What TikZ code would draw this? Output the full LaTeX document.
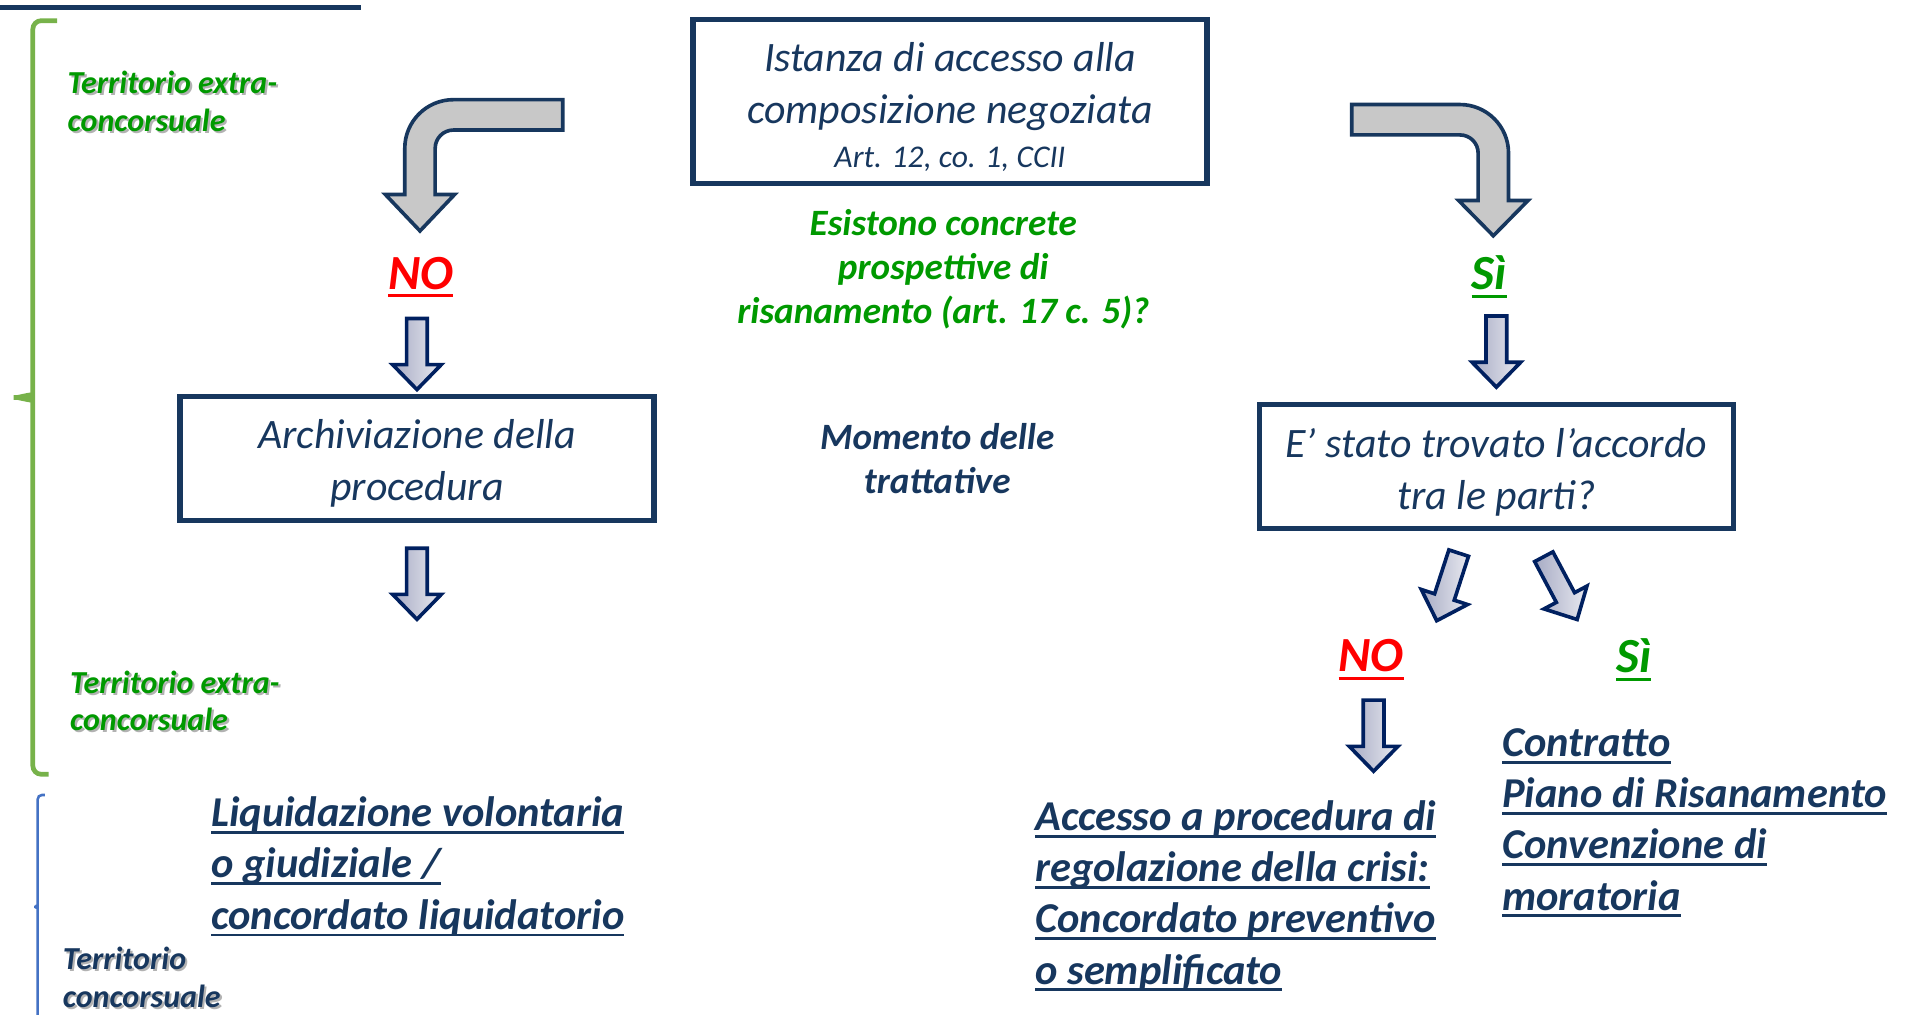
\documentclass[tikz,border=0pt]{standalone}
\usepackage{fontspec}
\setmainfont{Carlito}

\definecolor{navy}{HTML}{17375E}
\definecolor{arrownavy}{HTML}{002060}
\definecolor{okgreen}{HTML}{009900}
\definecolor{nored}{HTML}{FF0000}
\definecolor{bracegreen}{HTML}{77B24A}
\definecolor{braceblue}{HTML}{4472C4}
\definecolor{bendgray}{HTML}{C8C8C8}
\definecolor{shadedark}{HTML}{A7ABC4}
\definecolor{shadelight}{HTML}{E8E9F0}

\newcommand\boxfont{\fontsize{9.8}{12.2}\selectfont\itshape}
\newcommand\smallboxfont{\fontsize{7.4}{9}\selectfont\itshape}
\newcommand\notefont{\fontsize{8.7}{10.4}\selectfont\bfseries\itshape}
\newcommand\answerfont{\fontsize{11.5}{13}\selectfont\bfseries\itshape}
\newcommand\listfont{\fontsize{9.95}{12}\selectfont\bfseries\itshape}
\newcommand\sidefont{\fontsize{7.5}{8.8}\selectfont\bfseries\itshape}
% underline at a fixed depth, as in the slide
\newcommand\ulbox[1]{\leavevmode\setbox0\hbox{#1}\rlap{\rule[-0.17em]{\wd0}{0.07em}}\box0}
% soft grey drop shadow under a line of text
\newcommand\shad[1]{\leavevmode\rlap{\hspace{0.5pt}\raisebox{-0.5pt}[0pt][0pt]{\color{black!30}#1}}#1}
\newcommand\topgap{\rule{0pt}{9.3pt}}

\begin{document}
\begin{tikzpicture}[
        flowbox/.style={draw=navy, line width=1.25pt, minimum width=3.9cm,
            minimum height=1.02cm, inner sep=0pt, align=center, text=navy, font=\boxfont},
        note/.style={align=center, inner sep=0pt, font=\notefont},
        answer/.style={inner sep=0pt, font=\answerfont},
        outcome/.style={align=left, anchor=west, inner sep=0pt, text=navy, font=\listfont},
        side/.style={align=left, anchor=west, inner sep=0pt, font=\sidefont},
        bendarrow/.style={draw=navy, fill=bendgray, line width=0.85pt},
        blockarrow/.pic={
            \path[draw=arrownavy, line width=0.85pt, left color=shadedark, right color=shadelight]
                (-0.085,0) -- (0.085,0) -- (0.085,-0.38) -- (0.2,-0.38) -- (0,-0.585)
                -- (-0.2,-0.38) -- (-0.085,-0.38) -- cycle;
        }
    ]
    \useasboundingbox (0,0) rectangle (15.68,-8.35);

    % title rule and side brackets
    \draw[navy, line width=1.1pt] (0,-0.06) -- (2.97,-0.06);
    \draw[bracegreen, line width=1.1pt, rounded corners=2pt]
        (0.47,-0.17) -- (0.27,-0.17) -- (0.27,-3.22)
        to[out=-90,in=0] (0.07,-3.27) to[out=0,in=90] (0.27,-3.32)
        -- (0.27,-6.37) -- (0.40,-6.37);
    \draw[braceblue, line width=0.6pt, rounded corners=1pt]
        (0.37,-6.54) -- (0.31,-6.54) -- (0.31,-7.42)
        to[out=-90,in=0] (0.26,-7.46) to[out=0,in=90] (0.31,-7.50) -- (0.31,-8.40);

    % side labels
    \node[side, text=okgreen] (extraA) at (0.55,-0.835) {\shad{Territorio extra-}\\\shad{concorsuale}};
    \node[side, text=okgreen] (extraB) at (0.57,-5.765) {\shad{Territorio extra-}\\\shad{concorsuale}};
    \node[side, text=navy] (concors) at (0.51,-8.04) {\shad{Territorio}\\\shad{concorsuale}};

    % boxes
    \node[flowbox, minimum width=4.23cm, minimum height=1.35cm] (istanza) at (7.815,-0.835)
        {\topgap Istanza di accesso alla\\composizione negoziata\\[-2pt]{\smallboxfont Art. 12, co. 1, CCII}};
    \node[flowbox] (archivio) at (3.43,-3.77) {\topgap Archiviazione della\\procedura};
    \node[flowbox] (accordo) at (12.31,-3.84) {\topgap E’ stato trovato l’accordo\\tra le parti?};

    % middle notes
    \node[note, text=okgreen] (domanda) at (7.76,-2.215)
        {Esistono concrete\\prospettive di\\risanamento (art. 17 c. 5)?};
    \node[note, text=navy] (momento) at (7.71,-3.775) {Momento delle\\trattative};

    % answers
    \node[answer, text=nored] (noA) at (3.46,-2.28) {\ulbox{NO}};
    \node[answer, text=okgreen] (siA) at (12.25,-2.28) {\ulbox{Sì}};
    \node[answer, text=nored] (noB) at (11.28,-5.43) {\ulbox{NO}};
    \node[answer, text=okgreen] (siB) at (13.44,-5.43) {\ulbox{Sì}};

    % outcomes
    \node[outcome] (liquida) at (1.73,-7.13)
        {\ulbox{Liquidazione volontaria}\\\ulbox{o giudiziale /}\\\ulbox{concordato liquidatorio}};
    \node[outcome] (accesso) at (8.51,-7.37)
        {\ulbox{Accesso a procedura di}\\\ulbox{regolazione della crisi:}\\
         \ulbox{Concordato preventivo}\\\ulbox{o semplificato}};
    \node[outcome] (contratto) at (12.35,-6.77)
        {\ulbox{Contratto}\\\ulbox{Piano di Risanamento}\\\ulbox{Convenzione di}\\\ulbox{moratoria}};

    % bent arrows from the request
    \draw[bendarrow] (4.63,-0.82) -- (3.73,-0.82) arc[start angle=90, end angle=180, radius=0.40]
        -- (3.33,-1.60) -- (3.17,-1.60) -- (3.455,-1.90) -- (3.74,-1.60) -- (3.58,-1.60)
        -- (3.58,-1.22) arc[start angle=180, end angle=90, radius=0.15] -- (4.63,-1.07) -- cycle;
    \draw[bendarrow] (11.12,-0.86) -- (12.01,-0.86) arc[start angle=90, end angle=0, radius=0.40]
        -- (12.41,-1.65) -- (12.57,-1.65) -- (12.285,-1.94) -- (12.00,-1.65) -- (12.16,-1.65)
        -- (12.16,-1.26) arc[start angle=0, end angle=90, radius=0.15] -- (11.12,-1.11) -- cycle;

    % block arrows
    \foreach \x/\y/\r in {3.43/2.62/0, 3.43/4.51/0, 12.31/2.60/0, 11.30/5.76/0,
                          12.00/4.55/-18, 12.70/4.58/28} {
        \pic[rotate=\r] at (\x,-\y) {blockarrow};
    }
\end{tikzpicture}
\end{document}
